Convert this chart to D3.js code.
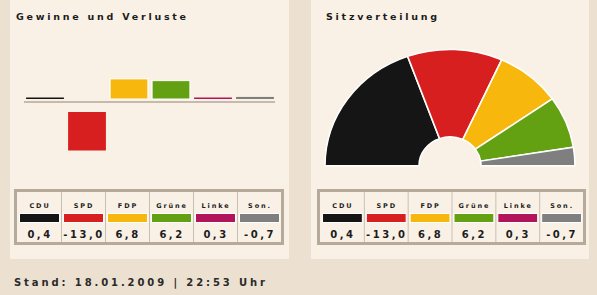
<!DOCTYPE html>
<html lang="de">
<head>
<meta charset="utf-8">
<title>Hessen: Gewinne und Verluste / Sitzverteilung</title>
<script src="https://cdn.jsdelivr.net/npm/d3@7"></script>
<style>
  body { margin: 0; background: #ece0d0; }
  svg text { font-family: "DejaVu Sans", Verdana, sans-serif; font-weight: bold; fill: #1c1c1c; }
</style>
</head>
<body>
<script>
// Gewinne und Verluste (Prozentpunkte)
var parties = ["CDU", "SPD", "FDP", "Grüne", "Linke", "Son."];
var changes = [0.4, -13.0, 6.8, 6.2, 0.3, -0.7];
var changeLabels = ["0,4", "-13,0", "6,8", "6,2", "0,3", "-0,7"];

// Sitzverteilung
var seatParties = ["CDU", "SPD", "FDP", "Grüne", "Linke"];
var seats = [46, 29, 20, 17, 6];

var stand = "Stand: 18.01.2009 | 22:53 Uhr";

var partyColor = {
  "CDU": "#151515", "SPD": "#d71f20", "FDP": "#f8b70c",
  "Grüne": "#63a112", "Linke": "#b1145b", "Son.": "#7f7f7f"
};
// in the seat chart the last slice is drawn grey
var seatColor = {
  "CDU": "#151515", "SPD": "#d71f20", "FDP": "#f8b70c",
  "Grüne": "#63a112", "Linke": "#7f7f7f"
};

var w = 597, h = 295;
var panelBg = "#faf1e6";

var svg = d3.select("body").append("svg")
  .attr("width", w).attr("height", h);

svg.append("rect").attr("width", w).attr("height", h).attr("fill", "#ece0d0");

// panels
svg.append("rect").attr("x", 10).attr("y", 0).attr("width", 279).attr("height", 259).attr("fill", panelBg);
svg.append("rect").attr("x", 311).attr("y", 0).attr("width", 278).attr("height", 259).attr("fill", panelBg);

function title(x, txt) {
  svg.append("text").attr("x", x).attr("y", 20)
    .style("font-size", "9.5px").style("letter-spacing", "2.75px")
    .text(txt);
}
title(16, "Gewinne und Verluste");
title(326, "Sitzverteilung");

// ---- bar chart ----
var x = d3.scaleBand().domain(parties).range([24, 276])
  .paddingInner(0.1).paddingOuter(0.05);
var hScale = d3.scaleLinear().domain([0, 13]).range([0, 38.5]);
var top0 = 99;   // bottom of positive bars
var bot0 = 112;  // top of negative bars
var minor = 1;   // small changes are drawn as flat bars above the line

var bars = parties.map(function(p, i) { return { p: p, v: changes[i] }; });

svg.append("g").selectAll("rect").data(bars).enter().append("rect")
  .attr("x", function(d) { return x(d.p); })
  .attr("width", x.bandwidth())
  .attr("y", function(d) {
    var hh = Math.max(1.5, hScale(Math.abs(d.v)));
    if (d.v >= 0 || Math.abs(d.v) < minor) return top0 - hh;
    return bot0;
  })
  .attr("height", function(d) { return Math.max(1.5, hScale(Math.abs(d.v))); })
  .attr("fill", function(d) { return partyColor[d.p]; })
  .attr("stroke", function(d) { return d.v >= 2 ? "#fff" : "none"; })
  .attr("stroke-width", 1);

svg.append("line").attr("x1", 24).attr("x2", 275).attr("y1", 102).attr("y2", 102)
  .attr("stroke", "#b3a797").attr("stroke-width", 1.5);

// ---- seat chart ----
var cx = 450, cy = 165.7;
var pie = d3.pie().sort(null).startAngle(-Math.PI / 2).endAngle(Math.PI / 2);
var arc = d3.arc().innerRadius(31).outerRadius(125);
var slices = pie(seats);

svg.append("g").attr("transform", "translate(" + cx + "," + cy + ") scale(1,0.93)")
  .selectAll("path").data(slices).enter().append("path")
  .attr("d", arc)
  .attr("fill", function(d, i) { return seatColor[seatParties[i]]; })
  .attr("stroke", "#fff").attr("stroke-width", 1.6);

// ---- legend tables ----
function legend(x0, width) {
  var g = svg.append("g");
  var y0 = 189, hh = 56;
  g.append("rect").attr("x", x0 + 1.5).attr("y", y0 + 1.5)
    .attr("width", width - 3).attr("height", hh - 3)
    .attr("fill", panelBg).attr("stroke", "#b6ab9b").attr("stroke-width", 3);
  var cols = d3.scaleBand().domain(parties).range([x0 + 3, x0 + width - 3]);
  parties.forEach(function(p, i) {
    var cx0 = cols(p), cw = cols.bandwidth();
    if (i > 0) {
      g.append("line").attr("x1", cx0 + 0.5).attr("x2", cx0 + 0.5)
        .attr("y1", y0 + 3).attr("y2", y0 + hh - 3)
        .attr("stroke", "#c9bfb1").attr("stroke-width", 1);
    }
    g.append("text").attr("x", cx0 + cw / 2 + 1).attr("y", y0 + 18.5)
      .attr("text-anchor", "middle")
      .style("font-size", "6.5px").style("letter-spacing", "1.9px")
      .text(p);
    g.append("rect").attr("x", cx0 + 2.5).attr("y", y0 + 24.5)
      .attr("width", cw - 4).attr("height", 9)
      .attr("fill", partyColor[p]).attr("stroke", "#fff").attr("stroke-width", 1);
    g.append("text").attr("x", cx0 + cw / 2 + 1).attr("y", y0 + 49)
      .attr("text-anchor", "middle")
      .style("font-size", "10px").style("letter-spacing", "2.5px")
      .text(changeLabels[i]);
  });
}
legend(14, 270);
legend(317, 269);

svg.append("text").attr("x", 14).attr("y", 285.5)
  .style("font-size", "10px").style("letter-spacing", "2.9px").style("fill", "#2a2a2a")
  .text(stand);
</script>
</body>
</html>
